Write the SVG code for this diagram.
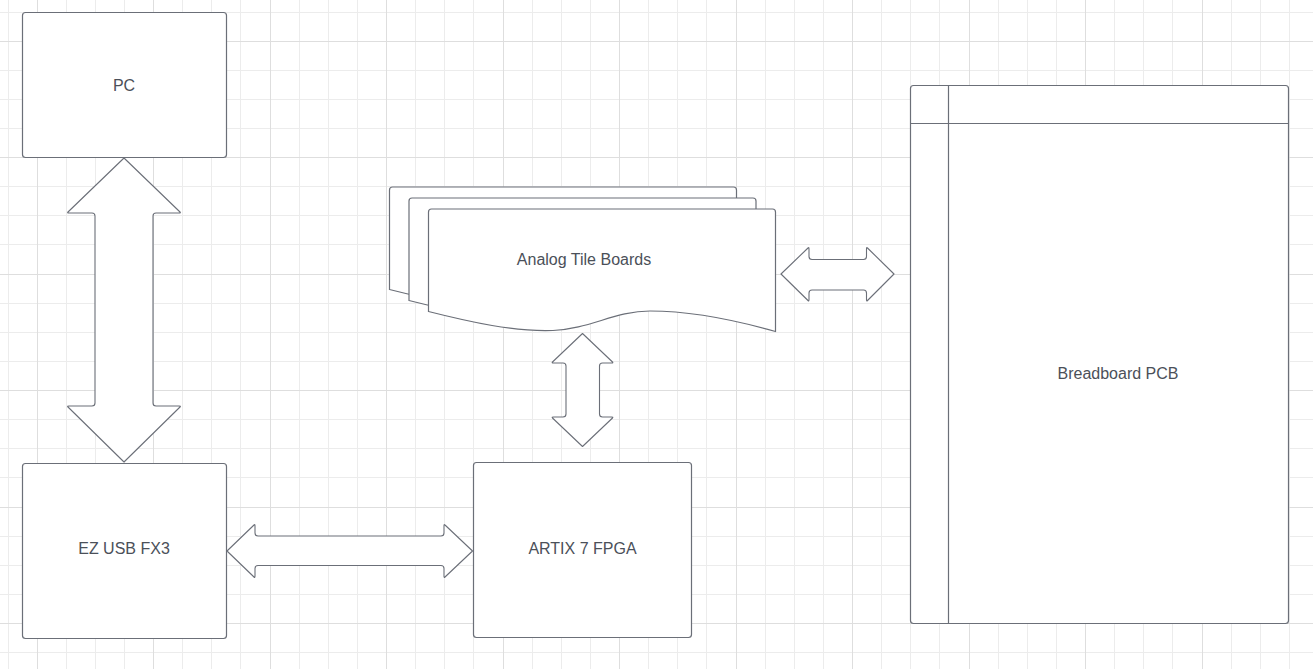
<svg xmlns="http://www.w3.org/2000/svg" width="1313" height="669" viewBox="0 0 1313 669">
<style>
.minor{stroke:#ececec;stroke-width:1;fill:none}
.major{stroke:#dedede;stroke-width:1;fill:none}
.box{fill:#ffffff;stroke:#6b6f78;stroke-width:1.2}
.arrow{fill:#ffffff;stroke:#6b6f78;stroke-width:1.1;stroke-linejoin:round}
.lbl{font-family:"Liberation Sans",Arial,sans-serif;font-size:16px;fill:#4b5059;text-anchor:middle}
</style>
<defs>
<path id="doc" d="M431.5,209 H772.5 Q775.5,209 775.5,212 V331.5 C735,320 690,311 650,311 C615,311 590,329 553,330.5 C515,332 470,322 428.5,311.5 V212 Q428.5,209 431.5,209 Z"/>
</defs>
<rect width="1313" height="669" fill="#ffffff"/>
<g id="grid">
<path class="minor" d="M8.5,0V669M66.5,0V669M95.5,0V669M124.5,0V669M182.5,0V669M211.5,0V669M240.5,0V669M299.5,0V669M328.5,0V669M357.5,0V669M415.5,0V669M444.5,0V669M473.5,0V669M532.5,0V669M561.5,0V669M590.5,0V669M648.5,0V669M677.5,0V669M706.5,0V669M765.5,0V669M794.5,0V669M823.5,0V669M881.5,0V669M910.5,0V669M939.5,0V669M998.5,0V669M1027.5,0V669M1056.5,0V669M1114.5,0V669M1143.5,0V669M1172.5,0V669M1231.5,0V669M1260.5,0V669M1289.5,0V669
M0,12.5H1313M0,70.5H1313M0,99.5H1313M0,128.5H1313M0,186.5H1313M0,215.5H1313M0,244.5H1313M0,303.5H1313M0,332.5H1313M0,361.5H1313M0,419.5H1313M0,448.5H1313M0,477.5H1313M0,536.5H1313M0,565.5H1313M0,594.5H1313M0,652.5H1313"/>
<path class="major" d="M37.5,0V669M153.5,0V669M270.5,0V669M386.5,0V669M503.5,0V669M619.5,0V669M736.5,0V669M852.5,0V669M969.5,0V669M1085.5,0V669M1202.5,0V669
M0,41.5H1313M0,157.5H1313M0,274.5H1313M0,390.5H1313M0,507.5H1313M0,623.5H1313"/>
</g>
<g id="connectors">
<path class="arrow" d="M124,158 L180,212 Q181,213 179,213 L156,213 Q153,213 153,216 L153,403 Q153,406 156,406 L179,406 Q181,406 180,407 L124,462 L68,407 Q67,406 69,406 L92,406 Q95,406 95,403 L95,216 Q95,213 92,213 L69,213 Q67,213 68,212 Z"/>
<path class="arrow" d="M582.5,333.5 L612.5,362 Q613.5,363 611.5,363 L602.5,363 Q599.5,363 599.5,366 L599.5,414 Q599.5,417 602.5,417 L611.5,417 Q613.5,417 612.5,418 L582.5,446.5 L552.5,418 Q551.5,417 553.5,417 L563,417 Q566,417 566,414 L566,366 Q566,363 563,363 L553.5,363 Q551.5,363 552.5,362 Z"/>
<path class="arrow" d="M227,551 L254,525 Q255,524 255,526 L255,533 Q255,536 258,536 L441,536 Q444,536 444,533 L444,526 Q444,524 445,525 L472.5,551 L445,577 Q444,578 444,576 L444,568.5 Q444,565.5 441,565.5 L258,565.5 Q255,565.5 255,568.5 L255,576 Q255,578 254,577 Z"/>
<path class="arrow" d="M781,274 L808,248 Q809,247 809,249 L809,256.5 Q809,259.5 812,259.5 L863.5,259.5 Q866.5,259.5 866.5,256.5 L866.5,249 Q866.5,247 867.5,248 L894,274 L867.5,300.5 Q866.5,301.5 866.5,299.5 L866.5,293 Q866.5,290 863.5,290 L812,290 Q809,290 809,293 L809,299.5 Q809,301.5 808,300.5 Z"/>
</g>
<g id="pc">
<rect class="box" x="22.5" y="12.5" width="204" height="145" rx="3"/>
<text class="lbl" x="124" y="90.5">PC</text>
</g>
<g id="ezusb">
<rect class="box" x="22.5" y="463.5" width="204" height="175" rx="3"/>
<text class="lbl" x="124" y="553.5">EZ USB FX3</text>
</g>
<g id="artix">
<rect class="box" x="473.5" y="462.5" width="218" height="175" rx="3"/>
<text class="lbl" x="582.5" y="553.5">ARTIX 7 FPGA</text>
</g>
<g id="analog">
<use href="#doc" class="box" transform="translate(-39,-22)"/>
<use href="#doc" class="box" transform="translate(-19.5,-11)"/>
<use href="#doc" class="box"/>
<text class="lbl" x="584" y="264.5">Analog Tile Boards</text>
</g>
<g id="breadboard">
<rect class="box" x="910.5" y="85.5" width="378" height="538" rx="3"/>
<path class="box" fill="none" d="M948.5,85.5V623.5M910.5,123.5H1288.5"/>
<text class="lbl" x="1118" y="378.5">Breadboard PCB</text>
</g>
</svg>
